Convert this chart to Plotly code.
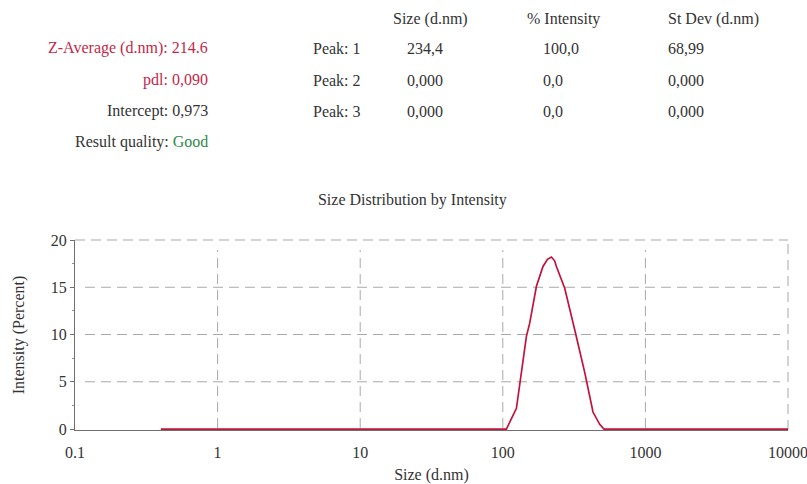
import math
import plotly.graph_objects as go

# Size distribution by intensity (diameter in d.nm, intensity in %)
size_nm = [0.4, 106.0, 124.6, 146.4, 154.4, 162.9, 172.1, 191.4, 205.6, 219.2,
           231.0, 237.6, 271.8, 319.4, 375.3, 429.0, 478.1, 512.5, 10000]
intensity_pct = [0, 0, 2.2, 9.8, 11.2, 13.3, 15.1, 17.2, 17.95, 18.2,
                 17.8, 17.2, 14.9, 10.5, 6.0, 1.8, 0.5, 0, 0]

# Summary results
summary_labels = ["Z-Average (d.nm): 214.6", "pdl: 0,090", "Intercept: 0,973"]
quality = "Good"

# Peak table
table_headers = ["Size (d.nm)", "% Intensity", "St Dev (d.nm)"]
peak_names = ["Peak: 1", "Peak: 2", "Peak: 3"]
peak_size = ["234,4", "0,000", "0,000"]
peak_intensity = ["100,0", "0,0", "0,0"]
peak_stdev = ["68,99", "0,000", "0,000"]

x_ticks = [0.1, 1, 10, 100, 1000, 10000]
x_tick_text = ["0.1", "1", "10", "100", "1000", "10000"]
y_ticks = [0, 5, 10, 15, 20]
X_RANGE = [-1, 4]          # log10 of 0.1 .. 10000
Y_RANGE = [-0.1, 20]       # tiny pad so the zero baseline is not clipped

FONT = "Liberation Serif"
FS = 16
DARK = "#333333"
RED = "#c0284a"
GREEN = "#2e8b47"
LINE = "#c0143c"
GRID = "#a8a8a8"
DASH = "10px,6px"

W, H = 807, 484
L, R, T, B = 75, 788, 240, 430


def px(x):
    return (x - L) / (R - L)


def py(y):
    return (B - y) / (B - T)


fig = go.Figure()
fig.add_trace(go.Scatter(x=size_nm, y=intensity_pct, mode="lines",
                         line=dict(color=LINE, width=1.7), hoverinfo="x+y"))

ann = []


def text(x, y, s, anchor="left", color=DARK, size=FS):
    ann.append(dict(x=px(x), y=py(y), xref="paper", yref="paper", text=s,
                    showarrow=False, xanchor=anchor, yanchor="middle",
                    font=dict(family=FONT, size=size, color=color)))


text(210, 48, summary_labels[0], "right", RED)
text(210, 80, summary_labels[1], "right", RED)
text(210, 111, summary_labels[2], "right")
text(210, 142, "Result quality: <span style='color:%s'>%s</span>" % (GREEN, quality), "right")

for hx, h in zip([391, 525, 666], table_headers):
    text(hx, 19, h)
for i, yy in enumerate([48, 80, 111]):
    text(311, yy, peak_names[i])
    text(405, yy, peak_size[i])
    text(541, yy, peak_intensity[i])
    text(666, yy, peak_stdev[i])

# dashed grid, slightly inset from the axes, plus a dashed top/right frame
grid_line = dict(color=GRID, width=1, dash=DASH)
shapes = []
for v in y_ticks[1:-1]:
    shapes.append(dict(type="line", xref="paper", yref="y", x0=px(85), x1=px(780),
                       y0=v, y1=v, line=grid_line, layer="below"))
for v in x_ticks[1:-1]:
    f = (math.log10(v) - X_RANGE[0]) / (X_RANGE[1] - X_RANGE[0])
    shapes.append(dict(type="line", xref="paper", yref="paper", x0=f, x1=f,
                       y0=py(428), y1=py(250), line=grid_line, layer="below"))
shapes.append(dict(type="line", xref="paper", yref="paper", x0=0, x1=1, y0=1, y1=1,
                   line=grid_line, layer="below"))
shapes.append(dict(type="line", xref="paper", yref="paper", x0=1, x1=1, y0=0, y1=1,
                   line=grid_line, layer="below"))

fig.update_layout(
    width=W, height=H,
    margin=dict(l=L, r=W - R, t=T, b=H - B, autoexpand=False),
    paper_bgcolor="white", plot_bgcolor="white",
    showlegend=False,
    font=dict(family=FONT, size=FS, color=DARK),
    title=dict(text="Size Distribution by Intensity", x=0.511, xanchor="center",
               y=1 - 199 / H, yanchor="middle",
               font=dict(family=FONT, size=FS, color=DARK)),
    annotations=ann,
    shapes=shapes,
)

fig.update_xaxes(
    type="log", range=X_RANGE, automargin=False,
    tickvals=x_ticks, ticktext=x_tick_text, ticks="",
    ticklabelstandoff=8, ticklabeloverflow="allow",
    showline=True, linecolor="#707070", linewidth=1, layer="below traces",
    showgrid=False, zeroline=False,
    tickfont=dict(family=FONT, size=FS, color=DARK),
    title=dict(text="Size (d.nm)", font=dict(family=FONT, size=FS, color=DARK), standoff=16),
)
fig.update_yaxes(
    range=Y_RANGE, tickvals=y_ticks, automargin=False,
    ticks="outside", ticklen=4, tickcolor="#707070",
    minor=dict(tickvals=[2.5, 7.5, 12.5, 17.5], ticks="outside", ticklen=2,
               tickcolor="#909090", showgrid=False),
    showline=True, linecolor="#707070", linewidth=1, layer="below traces",
    showgrid=False, zeroline=False,
    tickfont=dict(family=FONT, size=FS, color=DARK),
    title=dict(text="Intensity (Percent)", font=dict(family=FONT, size=FS, color=DARK), standoff=22),
)

fig.write_html("out.html")
